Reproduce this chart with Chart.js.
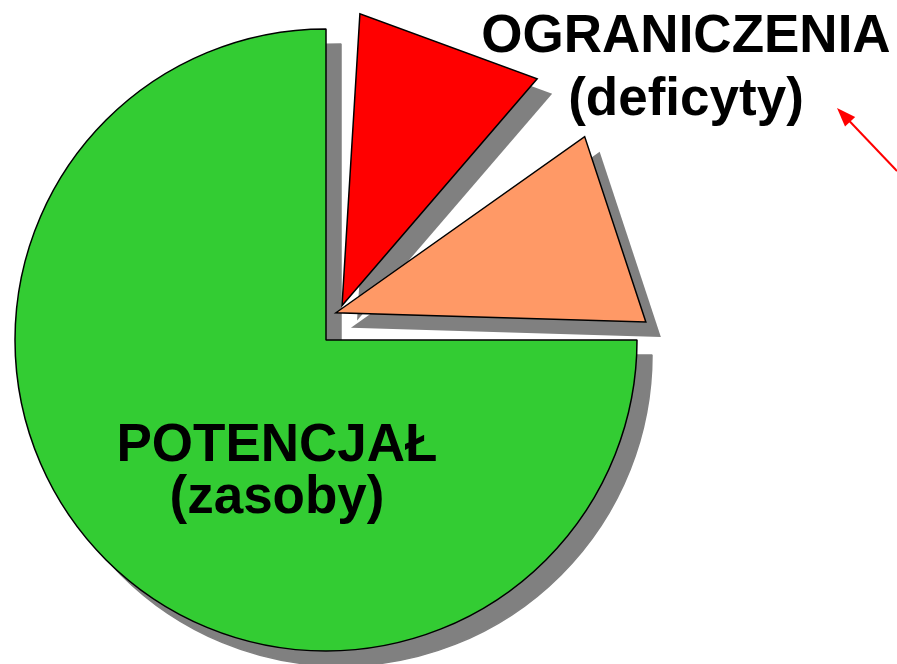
<!DOCTYPE html>
<html>
<head>
<meta charset="utf-8">
<script src="https://cdn.jsdelivr.net/npm/chart.js@4.4.0/dist/chart.umd.min.js"></script>
<style>
  html, body { margin: 0; padding: 0; background: #fff; }
  #wrap { width: 897px; height: 664px; }
</style>
</head>
<body>
<div id="wrap"><canvas id="pieChart" width="897" height="664"></canvas></div>
<script>
// slices, clockwise from 12 o'clock
const categories = ['OGRANICZENIA', 'OGRANICZENIA', 'POTENCJAŁ'];
const notes = ['(deficyty)', '(deficyty)', '(zasoby)'];
const shares = [12.5, 12.5, 75];
const colors = ['#ff0000', '#ff9966', '#33cc33'];

const shadowColor = '#808080';
const shadowShift = 15;

// how the two pulled-out wedges are cut (angles in degrees)
const wedgeCut = [
    { shiftAngle: -65, shift: 38, startTrim: 3.5, endTrim: 4.3, reachStart: 0.94, reachEnd: 0.962 },
    { shiftAngle: -70, shift: 29, startTrim: 9.7, endTrim: -1.7, reachStart: 0.98, reachEnd: 0.997 },
    null
];

const labelPlace = [
    { slice: 0, x: 686, y: 52, gap: 63 },
    { slice: 2, x: 277, y: 461, gap: 52 }
];

const rad = Math.PI / 180;

function wedgePath(ctx, arc, cut) {
    const ax = arc.x + Math.cos(cut.shiftAngle * rad) * cut.shift;
    const ay = arc.y + Math.sin(cut.shiftAngle * rad) * cut.shift;
    const a0 = arc.startAngle + cut.startTrim * rad;
    const a1 = arc.endAngle - cut.endTrim * rad;
    const r0 = arc.outerRadius * cut.reachStart;
    const r1 = arc.outerRadius * cut.reachEnd;
    ctx.beginPath();
    ctx.moveTo(ax, ay);
    ctx.lineTo(ax + Math.cos(a0) * r0, ay + Math.sin(a0) * r0);
    ctx.lineTo(ax + Math.cos(a1) * r1, ay + Math.sin(a1) * r1);
    ctx.closePath();
}

const explodedPie = {
    id: 'explodedPie',
    beforeDatasetsDraw(chart) {
        const ctx = chart.ctx;
        const arcs = chart.getDatasetMeta(0).data;

        // grey drop shadows first
        ctx.save();
        ctx.translate(shadowShift, shadowShift);
        arcs.forEach((arc, i) => {
            if (wedgeCut[i]) {
                wedgePath(ctx, arc, wedgeCut[i]);
                ctx.fillStyle = shadowColor;
                ctx.fill();
            } else {
                const ghost = Object.create(arc);
                ghost.options = Object.assign({}, arc.options, {
                    backgroundColor: shadowColor,
                    borderColor: shadowColor
                });
                ghost.draw(ctx);
            }
        });
        ctx.restore();

        arcs.forEach((arc, i) => {
            if (wedgeCut[i]) {
                ctx.save();
                wedgePath(ctx, arc, wedgeCut[i]);
                ctx.fillStyle = arc.options.backgroundColor;
                ctx.fill();
                ctx.lineWidth = arc.options.borderWidth;
                ctx.strokeStyle = arc.options.borderColor;
                ctx.lineJoin = 'miter';
                ctx.stroke();
                ctx.restore();
            } else {
                arc.draw(ctx);
            }
        });
        return false;
    },
    afterDraw(chart) {
        const ctx = chart.ctx;
        ctx.save();
        ctx.fillStyle = '#000';
        ctx.font = 'bold 53px "Liberation Sans", Arial, sans-serif';
        ctx.textAlign = 'center';
        ctx.textBaseline = 'alphabetic';
        labelPlace.forEach(p => {
            ctx.fillText(categories[p.slice], p.x, p.y);
            ctx.fillText(notes[p.slice], p.x, p.y + p.gap);
        });

        // red pointer arrow
        const tip = { x: 837, y: 108 };
        const tail = { x: 897, y: 171 };
        const ang = Math.atan2(tip.y - tail.y, tip.x - tail.x);
        const headLen = 19, headHalf = 7;
        ctx.strokeStyle = '#ff0000';
        ctx.fillStyle = '#ff0000';
        ctx.lineWidth = 2;
        ctx.beginPath();
        ctx.moveTo(tail.x, tail.y);
        ctx.lineTo(tip.x - Math.cos(ang) * headLen * 0.8, tip.y - Math.sin(ang) * headLen * 0.8);
        ctx.stroke();
        const bx = tip.x - Math.cos(ang) * headLen;
        const by = tip.y - Math.sin(ang) * headLen;
        ctx.beginPath();
        ctx.moveTo(tip.x, tip.y);
        ctx.lineTo(bx + Math.sin(ang) * headHalf, by - Math.cos(ang) * headHalf);
        ctx.lineTo(bx - Math.sin(ang) * headHalf, by + Math.cos(ang) * headHalf);
        ctx.closePath();
        ctx.fill();
        ctx.restore();
    }
};

new Chart(document.getElementById('pieChart'), {
    type: 'pie',
    data: {
        labels: categories,
        datasets: [{
            data: shares,
            backgroundColor: colors,
            borderColor: '#000000',
            borderWidth: 1.5
        }]
    },
    options: {
        responsive: false,
        animation: false,
        radius: 311,
        layout: { padding: { left: 0, right: 245, top: 16, bottom: 0 } },
        plugins: {
            legend: { display: false },
            tooltip: { enabled: false }
        }
    },
    plugins: [explodedPie]
});
</script>
</body>
</html>
